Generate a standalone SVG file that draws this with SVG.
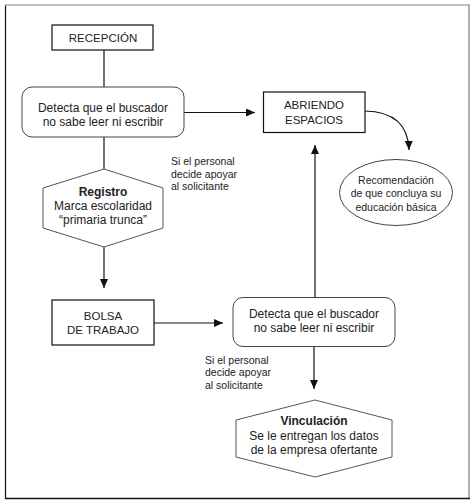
<svg xmlns="http://www.w3.org/2000/svg" width="475" height="502" viewBox="0 0 475 502">
<style>
text{font-family:"Liberation Sans",Arial,sans-serif;fill:#222;text-anchor:middle}
.box{fill:#fff;stroke:#111;stroke-width:1.2}
.rbox{fill:#fff;stroke:#444;stroke-width:1}
.hex{fill:#fff;stroke:#555;stroke-width:1}
.t12{font-size:12px}
.t115{font-size:11.5px}
.lbl{font-size:10.5px;text-anchor:start}
.ell{font-size:10.5px}
.b{font-weight:bold}
.con{fill:none;stroke:#111;stroke-width:1.2}
</style>
<defs>
<marker id="ah" markerUnits="userSpaceOnUse" markerWidth="10" markerHeight="10" refX="9" refY="4" orient="auto">
<path d="M0,0 L9,4 L0,8 z" fill="#111"/>
</marker>
</defs>
<g id="frame">
<line x1="5" y1="5" x2="470" y2="5" stroke="#aaa" stroke-width="1.6"/>
<line x1="469" y1="5" x2="469" y2="498" stroke="#aaa" stroke-width="1.8"/>
<line x1="5.5" y1="5.5" x2="5.5" y2="499" stroke="#111" stroke-width="1.2"/>
<line x1="5" y1="498.5" x2="470" y2="498.5" stroke="#111" stroke-width="1.4"/>
</g>
<g id="connectors">
<line class="con" x1="104" y1="50" x2="104" y2="87"/>
<line class="con" x1="104" y1="137" x2="104" y2="169"/>
<line class="con" x1="184" y1="112.5" x2="255" y2="112.5" marker-end="url(#ah)"/>
<path class="con" d="M365,111 Q408,112 409,150" marker-end="url(#ah)"/>
<line class="con" x1="104" y1="247" x2="104" y2="288" marker-end="url(#ah)"/>
<line class="con" x1="154" y1="323" x2="223" y2="323" marker-end="url(#ah)"/>
<line class="con" x1="315" y1="297" x2="315" y2="145" marker-end="url(#ah)"/>
<line class="con" x1="314" y1="347" x2="314" y2="389" marker-end="url(#ah)"/>
</g>
<g id="recepcion">
<rect class="box" x="52" y="25" width="101" height="25"/>
<text class="t115" x="103" y="41.5">RECEPCIÓN</text>
</g>
<g id="detecta1">
<rect class="rbox" x="22" y="87" width="162" height="50" rx="10"/>
<text class="t12" x="103" y="111.5">Detecta que el buscador</text>
<text class="t12" x="103" y="125.5">no sabe leer ni escribir</text>
</g>
<g id="abriendo">
<rect class="box" x="263.5" y="92" width="101.5" height="40.5"/>
<text class="t115" x="314" y="108.5">ABRIENDO</text>
<text class="t115" x="314" y="124">ESPACIOS</text>
</g>
<g id="recomendacion">
<ellipse class="rbox" cx="396" cy="192.5" rx="56.5" ry="33"/>
<text class="ell" x="396" y="183.5">Recomendación</text>
<text class="ell" x="396" y="197">de que concluya su</text>
<text class="ell" x="396" y="210.5">educación básica</text>
</g>
<g id="label1">
<text class="lbl" x="171" y="165">Si el personal</text>
<text class="lbl" x="171" y="177.5">decide apoyar</text>
<text class="lbl" x="171" y="189.5">al solicitante</text>
</g>
<g id="registro">
<polygon class="hex" points="104,169 163,188 163,228 104,247 43,228 43,188"/>
<text class="t12 b" x="103" y="195.5">Registro</text>
<text class="t12" x="103" y="209.5">Marca escolaridad</text>
<text class="t12" x="103" y="223.5">“primaria trunca”</text>
</g>
<g id="bolsa">
<rect class="box" x="52" y="300" width="102" height="45"/>
<text class="t115" x="103" y="319.5">BOLSA</text>
<text class="t115" x="103" y="334">DE TRABAJO</text>
</g>
<g id="detecta2">
<rect class="rbox" x="233" y="297.5" width="162" height="49" rx="10"/>
<text class="t12" x="314" y="317.5">Detecta que el buscador</text>
<text class="t12" x="314" y="331.5">no sabe leer ni escribir</text>
</g>
<g id="label2">
<text class="lbl" x="205" y="363.5">Si el personal</text>
<text class="lbl" x="205" y="376">decide apoyar</text>
<text class="lbl" x="205" y="389">al solicitante</text>
</g>
<g id="vinculacion">
<polygon class="hex" points="315,400 392,420 392,457 315,477 236,457 236,420"/>
<text class="t12 b" x="314" y="425">Vinculación</text>
<text class="t12" x="314" y="439.5">Se le entregan los datos</text>
<text class="t12" x="314" y="454">de la empresa ofertante</text>
</g>
</svg>
